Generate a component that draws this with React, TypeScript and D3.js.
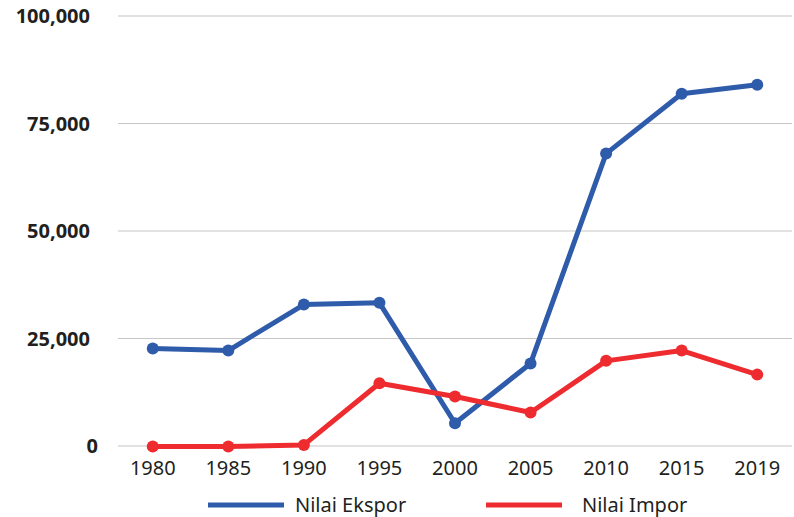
import { useEffect, useRef } from 'react'
import * as d3 from 'd3'

const years = ['1980', '1985', '1990', '1995', '2000', '2005', '2010', '2015', '2019']
const ekspor = [22700, 22200, 32900, 33300, 5300, 19200, 68000, 81900, 84000]
const impor = [-100, -100, 250, 14600, 11500, 7800, 19800, 22200, 16600]
const yTicks = [0, 25000, 50000, 75000, 100000]

const series = [
  { name: 'Nilai Ekspor', values: ekspor, color: '#2E5BAA' },
  { name: 'Nilai Impor', values: impor, color: '#EE2B2F' }
]

export default function App() {
  const svgRef = useRef<SVGSVGElement>(null)

  useEffect(() => {
    document.body.style.margin = '0'
    if (!svgRef.current) return

    const svg = d3.select(svgRef.current)
    svg.selectAll('*').remove()

    const width = 794
    const height = 517
    const plot = { left: 118, right: 792, top: 16, bottom: 446 }

    const x = d3.scalePoint<string>()
      .domain(years)
      .range([plot.left, plot.right])
      .padding(0.46)

    const y = d3.scaleLinear()
      .domain([0, 100000])
      .range([plot.bottom, plot.top])

    svg.attr('width', width).attr('height', height)
    svg.append('rect').attr('width', width).attr('height', height).attr('fill', '#fff')

    // Gridlines
    svg.append('g')
      .selectAll('line')
      .data(yTicks)
      .enter().append('line')
      .attr('x1', plot.left)
      .attr('x2', plot.right)
      .attr('y1', d => y(d))
      .attr('y2', d => y(d))
      .attr('stroke', '#c6c6c6')
      .attr('stroke-width', 1.2)

    // Y labels
    const fmt = d3.format(',')
    svg.append('g')
      .selectAll('text')
      .data(yTicks)
      .enter().append('text')
      .attr('x', d => (d === 0 ? 98 : 90))
      .attr('y', d => y(d))
      .attr('dy', '0.36em')
      .attr('text-anchor', 'end')
      .style('font-family', '"Open Sans", sans-serif')
      .style('font-weight', 700)
      .style('font-size', '20px')
      .style('fill', '#231f20')
      .text(d => fmt(d))

    // X labels
    svg.append('g')
      .selectAll('text')
      .data(years)
      .enter().append('text')
      .attr('x', d => x(d)!)
      .attr('y', 468)
      .attr('dy', '0.36em')
      .attr('text-anchor', 'middle')
      .style('font-family', '"Noto Sans", sans-serif')
      .style('font-size', '20px')
      .style('fill', '#231f20')
      .text(d => d)

    const line = d3.line<number>()
      .x((_, i) => x(years[i])!)
      .y(d => y(d))

    series.forEach(s => {
      svg.append('path')
        .datum(s.values)
        .attr('fill', 'none')
        .attr('stroke', s.color)
        .attr('stroke-width', 5)
        .attr('stroke-linejoin', 'round')
        .attr('d', line)

      svg.append('g')
        .selectAll('circle')
        .data(s.values)
        .enter().append('circle')
        .attr('cx', (_, i) => x(years[i])!)
        .attr('cy', d => y(d))
        .attr('r', 6)
        .attr('fill', s.color)
    })

    // Legend
    const legendPos = [208, 486]
    series.forEach((s, i) => {
      const lx = legendPos[i]
      svg.append('line')
        .attr('x1', lx)
        .attr('x2', lx + 76)
        .attr('y1', 505)
        .attr('y2', 505)
        .attr('stroke', s.color)
        .attr('stroke-width', 5)
      svg.append('text')
        .attr('x', lx + (i === 0 ? 87 : 96))
        .attr('y', 505)
        .attr('dy', '0.36em')
        .style('font-family', '"Noto Sans", sans-serif')
        .style('font-size', '20px')
        .style('fill', '#231f20')
        .text(s.name)
    })
  }, [])

  return <svg ref={svgRef} style={{ display: 'block' }}></svg>
}
